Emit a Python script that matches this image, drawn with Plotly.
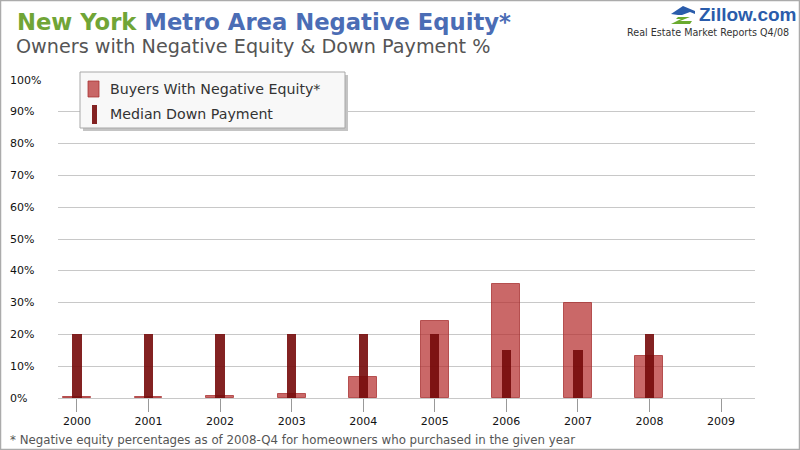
import plotly.graph_objects as go

# ---------------- data ----------------
years = [2000, 2001, 2002, 2003, 2004, 2005, 2006, 2007, 2008, 2009]
year_labels = ["2000", "2001", "2002", "2003", "2004", "2005", "2006", "2007", "2008", "2009"]
neg_equity = [0.2, 0.2, 0.5, 1.4, 6.6, 24.2, 35.9, 30.0, 13.1, None]
down_payment = [20, 20, 20, 20, 20, 20, 15, 15, 20, None]
y_ticks = [0, 10, 20, 30, 40, 50, 60, 70, 80, 90, 100]
y_tick_labels = [f"{v}%" for v in y_ticks]
series_names = ["Buyers With Negative Equity*", "Median Down Payment"]

# ---------------- layout helpers (pixel -> paper) ----------------
W, H = 800, 450
L, R, T, B = 58, 755, 80, 398  # plot area in pixels


def px(x):
    return (x - L) / (R - L)


def py(y):
    return (B - y) / (B - T)


FONT = "DejaVu Sans, Verdana, sans-serif"

fig = go.Figure()
fig.add_trace(go.Bar(
    x=years, y=neg_equity, width=0.39, name=series_names[0],
    marker=dict(color="rgba(180,40,40,0.7)", line=dict(color="rgba(165,45,45,0.75)", width=1)),
    showlegend=False,
))
fig.add_trace(go.Bar(
    x=years, y=down_payment, width=0.13, name=series_names[1],
    marker=dict(color="rgba(118,10,10,0.9)", line=dict(width=0)),
    showlegend=False,
))

shapes = []
annotations = []

# outer border
shapes.append(dict(type="rect", xref="paper", yref="paper",
                   x0=px(0.5), x1=px(799.5), y0=py(0.5), y1=py(449.5),
                   line=dict(color="#ababab", width=1.5), fillcolor="rgba(0,0,0,0)", layer="above"))

# legend box with shadow
shapes.append(dict(type="rect", xref="paper", yref="paper",
                   x0=px(83), x1=px(348), y0=py(75), y1=py(131),
                   line=dict(width=0), fillcolor="#c4c4c4", layer="above"))
shapes.append(dict(type="rect", xref="paper", yref="paper",
                   x0=px(80), x1=px(345), y0=py(72), y1=py(128),
                   line=dict(color="#a8a8a8", width=1), fillcolor="#f8f8f8", layer="above"))
# legend symbols
shapes.append(dict(type="rect", xref="paper", yref="paper",
                   x0=px(88), x1=px(99), y0=py(81), y1=py(97),
                   line=dict(color="rgba(165,45,45,0.75)", width=1), fillcolor="rgba(180,40,40,0.7)", layer="above"))
shapes.append(dict(type="rect", xref="paper", yref="paper",
                   x0=px(92), x1=px(97), y0=py(105), y1=py(124),
                   line=dict(width=0), fillcolor="rgba(118,10,10,0.9)", layer="above"))
annotations.append(dict(xref="paper", yref="paper", x=px(108), y=py(89), xanchor="left", yanchor="middle",
                        text=series_names[0], showarrow=False, font=dict(family=FONT, size=14.2, color="#333333")))
annotations.append(dict(xref="paper", yref="paper", x=px(108), y=py(114), xanchor="left", yanchor="middle",
                        text=series_names[1], showarrow=False, font=dict(family=FONT, size=14.2, color="#333333")))

# y tick labels (left aligned)
for v, t in zip(y_ticks, y_tick_labels):
    annotations.append(dict(xref="paper", yref="y", x=px(8), y=v, xanchor="left", yanchor="middle",
                            text=t, showarrow=False, font=dict(family=FONT, size=11, color="#111111")))

# title
title_txt = ("<b><span style='color:#70a536'>New York</span> Metro Area Negative Equity*</b>")
annotations.append(dict(xref="paper", yref="paper", x=px(15), y=py(22), xanchor="left", yanchor="middle",
                        text=title_txt, showarrow=False,
                        font=dict(family=FONT, size=22.7, color="#4b6db5")))
annotations.append(dict(xref="paper", yref="paper", x=px(14), y=py(47), xanchor="left", yanchor="middle",
                        text="Owners with Negative Equity & Down Payment %", showarrow=False,
                        font=dict(family=FONT, size=19.2, color="#555555")))

# Zillow logo
annotations.append(dict(xref="paper", yref="paper", x=px(697), y=py(14), xanchor="left", yanchor="middle",
                        text="<b>Zillow.com</b>", showarrow=False,
                        font=dict(family="Liberation Sans, Arial, sans-serif", size=19, color="#2a5cab")))
annotations.append(dict(xref="paper", yref="paper", x=px(791), y=py(33), xanchor="right", yanchor="middle",
                        text="Real Estate Market Reports Q4/08", showarrow=False,
                        font=dict(family=FONT, size=9.6, color="#333333")))


def ppath(points):
    return "M " + " L ".join(f"{px(a):.5f},{py(b):.5f}" for a, b in points) + " Z"


shapes.append(dict(type="path", xref="paper", yref="paper",
                   path=ppath([(671, 14), (683, 6), (695, 11), (695, 14), (690, 12), (682, 15), (678, 15)]),
                   fillcolor="#2a5cab", line=dict(width=0), layer="above"))
shapes.append(dict(type="path", xref="paper", yref="paper",
                   path=ppath([(678, 17), (690, 17), (680, 21), (692, 21), (690, 24), (671, 24), (681, 19), (676, 19)]),
                   fillcolor="#6aaa2e", line=dict(width=0), layer="above"))

# footnote
annotations.append(dict(xref="paper", yref="paper", x=px(8), y=py(440), xanchor="left", yanchor="middle",
                        text="* Negative equity percentages as of 2008-Q4 for homeowners who purchased in the given year",
                        showarrow=False, font=dict(family=FONT, size=11.8, color="#555555")))

fig.update_layout(
    width=W, height=H,
    margin=dict(l=L, r=W - R, t=T, b=H - B, pad=0),
    paper_bgcolor="white", plot_bgcolor="white",
    barmode="overlay", bargap=0,
    shapes=shapes, annotations=annotations,
    font=dict(family=FONT),
    xaxis=dict(
        range=[1999.735, 2009.475], tickmode="array", tickvals=years, ticktext=year_labels,
        ticks="outside", ticklen=13, tickwidth=1, tickcolor="#999999",
        showgrid=False, zeroline=False, showline=True, linecolor="#c8c8c8", linewidth=1,
        tickfont=dict(family=FONT, size=11, color="#111111"), fixedrange=True,
    ),
    yaxis=dict(
        range=[0, 100], tickmode="array", tickvals=y_ticks, showticklabels=False,
        showgrid=True, gridcolor="#c8c8c8", gridwidth=1, zeroline=False, ticks="",
        fixedrange=True,
    ),
)

fig.write_html("out.html", config={"displayModeBar": False},
               post_script="document.body.style.margin='0';document.body.style.overflow='hidden';")
